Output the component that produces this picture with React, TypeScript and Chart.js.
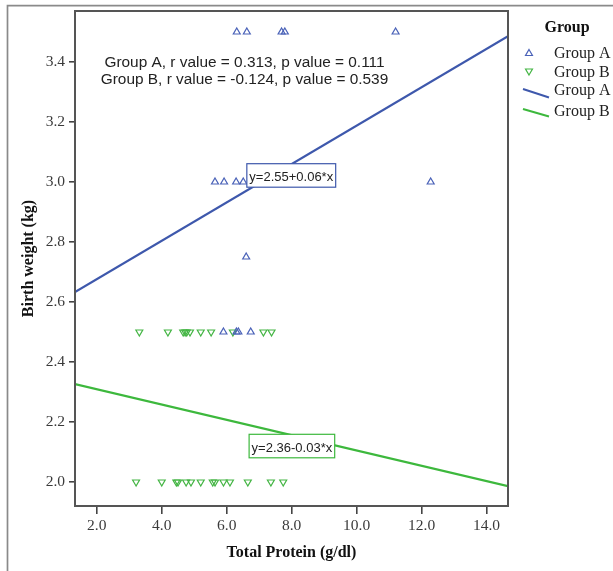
import React, { useEffect, useRef } from "react";
import { Chart, registerables } from "chart.js";

Chart.register(...registerables);

// ---- data ----
const GROUP_A_X = [6.31, 6.62, 7.69, 7.79, 11.2, 5.64, 5.92, 6.29, 6.51, 12.28, 6.6, 5.9, 6.3, 6.36, 6.74];
const GROUP_A_Y = [3.5, 3.5, 3.5, 3.5, 3.5, 3.0, 3.0, 3.0, 3.0, 3.0, 2.75, 2.5, 2.5, 2.5, 2.5];

const GROUP_B_X = [
  3.31, 4.19, 4.66, 4.72, 4.77, 4.87, 5.2, 5.52, 6.19, 7.13, 7.38,
  3.21, 4.0, 4.45, 4.5, 4.75, 4.9, 5.2, 5.57, 5.64, 5.9, 6.1, 6.65, 7.36, 7.74,
];
const GROUP_B_Y = [
  2.5, 2.5, 2.5, 2.5, 2.5, 2.5, 2.5, 2.5, 2.5, 2.5, 2.5,
  2.0, 2.0, 2.0, 2.0, 2.0, 2.0, 2.0, 2.0, 2.0, 2.0, 2.0, 2.0, 2.0, 2.0,
];

const FIT_A = [2.548, 0.064]; // intercept, slope
const FIT_B = [2.36, -0.0255];
const FIT_A_LABEL = "y=2.55+0.06*x";
const FIT_B_LABEL = "y=2.36-0.03*x";

const X_TICKS = [2, 4, 6, 8, 10, 12, 14];
const Y_TICKS = [2.0, 2.2, 2.4, 2.6, 2.8, 3.0, 3.2, 3.4];
const X_RANGE = [1.33, 14.66];
const Y_RANGE = [1.92, 3.57];

const STATS_LINES = [
  "Group A, r value = 0.313, p value = 0.111",
  "Group B, r value = -0.124, p value = 0.539",
];
const X_TITLE = "Total Protein (g/dl)";
const Y_TITLE = "Birth weight (kg)";
const LEGEND_TITLE = "Group";
const SERIES_NAMES = ["Group A", "Group B"];

// ---- styles ----
const BLUE = "#3e58ac";
const GREEN = "#3db83d";
const BLUE_PT = "#4a62b8";
const GREEN_PT = "#44b544";
const SERIF = '"Liberation Serif", "Times New Roman", serif';
const SANS = '"Liberation Sans", Arial, sans-serif';

function tri(ctx: CanvasRenderingContext2D, x: number, y: number, r: number, down: boolean, color: string) {
  const s = down ? -1 : 1;
  ctx.save();
  ctx.strokeStyle = color;
  ctx.lineWidth = 1.2;
  ctx.beginPath();
  ctx.moveTo(x, y - s * r);
  ctx.lineTo(x + r * 0.866, y + s * r * 0.5);
  ctx.lineTo(x - r * 0.866, y + s * r * 0.5);
  ctx.closePath();
  ctx.stroke();
  ctx.restore();
}

const decorPlugin = {
  id: "decor",
  afterDatasetsDraw(chart: any) {
    const ctx: CanvasRenderingContext2D = chart.ctx;
    const { left, right, top, bottom } = chart.chartArea;
    const xs = chart.scales.x;
    const ys = chart.scales.y;
    ctx.save();

    // plot frame
    ctx.strokeStyle = "#555";
    ctx.lineWidth = 2;
    ctx.strokeRect(left, top, right - left, bottom - top);

    // stats text
    ctx.fillStyle = "#222";
    ctx.font = `15.4px ${SANS}`;
    ctx.textAlign = "center";
    ctx.textBaseline = "alphabetic";
    const cx = (left + right) / 2 - 47;
    ctx.fillText(STATS_LINES[0], cx, 66.5);
    ctx.fillText(STATS_LINES[1], cx, 83.5);

    // equation boxes
    const box = (label: string, xv: number, yv: number, color: string) => {
      const px = xs.getPixelForValue(xv);
      const py = ys.getPixelForValue(yv);
      ctx.font = `13px ${SANS}`;
      const w = ctx.measureText(label).width + 5;
      const h = 23.5;
      ctx.fillStyle = "#fff";
      ctx.fillRect(px, py, w, h);
      ctx.strokeStyle = color;
      ctx.lineWidth = 1.2;
      ctx.strokeRect(px, py, w, h);
      ctx.fillStyle = "#222";
      ctx.textAlign = "left";
      ctx.textBaseline = "alphabetic";
      ctx.fillText(label, px + 2.5, py + 17.5);
    };
    box(FIT_A_LABEL, 6.62, 3.061, BLUE);
    box(FIT_B_LABEL, 6.69, 2.159, GREEN);

    // axis titles
    ctx.fillStyle = "#111";
    ctx.font = `bold 16px ${SERIF}`;
    ctx.textAlign = "center";
    ctx.textBaseline = "middle";
    ctx.fillText(X_TITLE, (left + right) / 2, 553);
    ctx.save();
    ctx.translate(29, (top + bottom) / 2);
    ctx.rotate(-Math.PI / 2);
    ctx.fillText(Y_TITLE, 0, 0);
    ctx.restore();

    // legend
    ctx.fillStyle = "#111";
    ctx.font = `bold 16px ${SERIF}`;
    ctx.textAlign = "center";
    ctx.fillText(LEGEND_TITLE, 567, 28);
    ctx.font = `16px ${SERIF}`;
    ctx.textAlign = "left";
    ctx.fillStyle = "#222";
    tri(ctx, 529, 53.5, 4, false, BLUE_PT);
    ctx.fillText(SERIES_NAMES[0], 554, 54);
    tri(ctx, 529, 71, 4, true, GREEN_PT);
    ctx.fillText(SERIES_NAMES[1], 554, 73);
    ctx.lineWidth = 2;
    ctx.strokeStyle = BLUE;
    ctx.beginPath();
    ctx.moveTo(523, 89);
    ctx.lineTo(549, 97.5);
    ctx.stroke();
    ctx.fillText(SERIES_NAMES[0], 554, 91);
    ctx.strokeStyle = GREEN;
    ctx.beginPath();
    ctx.moveTo(523, 109);
    ctx.lineTo(549, 116.5);
    ctx.stroke();
    ctx.fillText(SERIES_NAMES[1], 554, 112);

    // outer frame (left and top edges)
    ctx.strokeStyle = "#8a8a8a";
    ctx.lineWidth = 1.7;
    ctx.beginPath();
    ctx.moveTo(7.5, 571);
    ctx.lineTo(7.5, 5.7);
    ctx.lineTo(613, 5.7);
    ctx.stroke();

    ctx.restore();
  },
};

function fitLine(fit: number[]) {
  return [
    { x: X_RANGE[0], y: fit[0] + fit[1] * X_RANGE[0] },
    { x: X_RANGE[1], y: fit[0] + fit[1] * X_RANGE[1] },
  ];
}

export default function App() {
  const ref = useRef<HTMLCanvasElement>(null);

  useEffect(() => {
    if (!ref.current) return;
    const tickFont = { family: SERIF, size: 15.5 };
    const chart = new Chart(ref.current, {
      type: "scatter",
      data: {
        datasets: [
          {
            label: "Group A",
            data: GROUP_A_X.map((x, i) => ({ x, y: GROUP_A_Y[i] })),
            pointStyle: "triangle",
            pointRadius: 4,
            borderColor: BLUE_PT,
            backgroundColor: "rgba(0,0,0,0)",
            borderWidth: 1.2,
          },
          {
            label: "Group B",
            data: GROUP_B_X.map((x, i) => ({ x, y: GROUP_B_Y[i] })),
            pointStyle: "triangle",
            pointRotation: 180,
            pointRadius: 4,
            borderColor: GREEN_PT,
            backgroundColor: "rgba(0,0,0,0)",
            borderWidth: 1.2,
          },
          {
            type: "line",
            label: "Fit A",
            data: fitLine(FIT_A),
            showLine: true,
            borderColor: BLUE,
            borderWidth: 2.2,
            pointRadius: 0,
          },
          {
            type: "line",
            label: "Fit B",
            data: fitLine(FIT_B),
            showLine: true,
            borderColor: GREEN,
            borderWidth: 2.2,
            pointRadius: 0,
          },
        ],
      } as any,
      options: {
        animation: false,
        responsive: false,
        devicePixelRatio: 1,
        layout: { padding: { top: 11, right: 105, left: 0, bottom: 0 } },
        plugins: { legend: { display: false }, tooltip: { enabled: false } },
        scales: {
          x: {
            type: "linear",
            min: X_RANGE[0],
            max: X_RANGE[1],
            afterBuildTicks: (s: any) => {
              s.ticks = X_TICKS.map((v) => ({ value: v }));
            },
            afterFit: (s: any) => {
              s.height = 65;
              s.paddingLeft = 0;
              s.paddingRight = 0;
            },
            grid: { display: true, drawOnChartArea: false, drawTicks: true, tickLength: 8, color: "#444", lineWidth: 1.6 },
            border: { display: false },
            ticks: {
              color: "#3a3a3a",
              font: tickFont,
              padding: 3,
              maxRotation: 0,
              autoSkip: false,
              callback: (v: any) => Number(v).toFixed(1),
            },
          },
          y: {
            type: "linear",
            min: Y_RANGE[0],
            max: Y_RANGE[1],
            afterBuildTicks: (s: any) => {
              s.ticks = Y_TICKS.map((v) => ({ value: v }));
            },
            afterFit: (s: any) => {
              s.width = 75;
              s.paddingTop = 0;
              s.paddingBottom = 0;
            },
            grid: { display: true, drawOnChartArea: false, drawTicks: true, tickLength: 6, color: "#444", lineWidth: 1.6 },
            border: { display: false },
            ticks: {
              color: "#3a3a3a",
              font: tickFont,
              padding: 4,
              autoSkip: false,
              callback: (v: any) => Number(v).toFixed(1),
            },
          },
        },
      } as any,
      plugins: [decorPlugin],
    });
    return () => chart.destroy();
  }, []);

  return (
    <div style={{ position: "absolute", left: 0, top: 0, width: 613, height: 571, background: "#fff" }}>
      <canvas ref={ref} width={613} height={571} style={{ width: 613, height: 571, display: "block" }} />
    </div>
  );
}
